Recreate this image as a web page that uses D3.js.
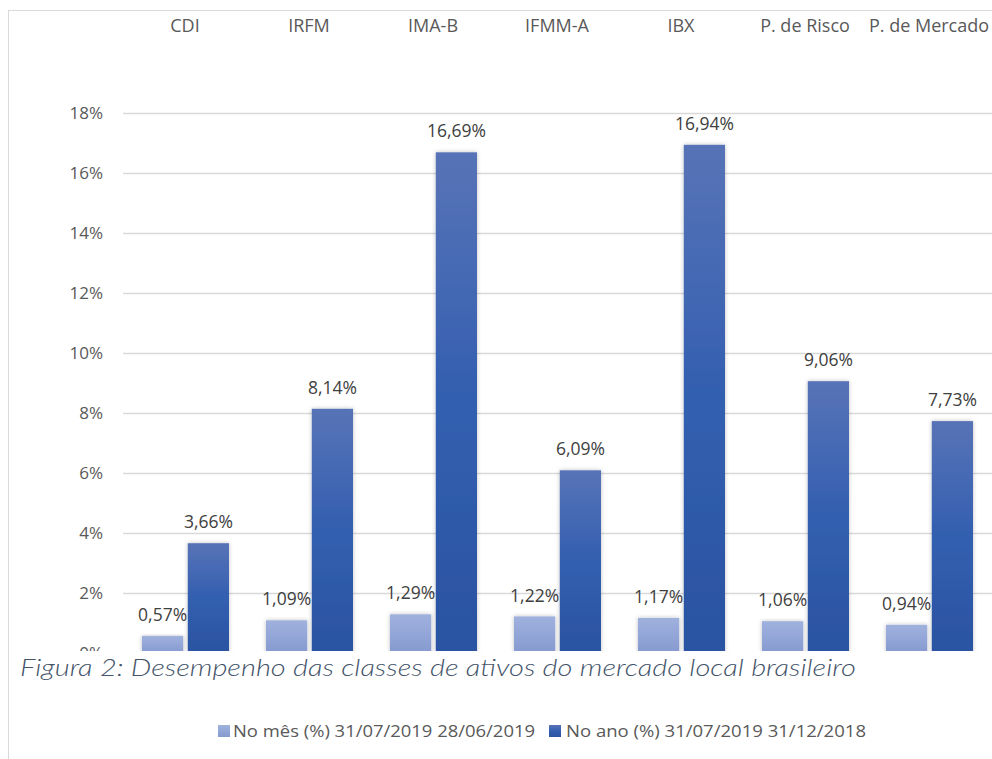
<!DOCTYPE html>
<html>
<head>
<meta charset="utf-8">
<script src="https://cdn.jsdelivr.net/npm/d3@7"></script>
<style>
  body { margin: 0; background: #fff; }
  svg { display: block; }
</style>
</head>
<body>
<div id="container"></div>
<script>
const { d3 } = window;

const categories = ['CDI', 'IRFM', 'IMA-B', 'IFMM-A', 'IBX', 'P. de Risco', 'P. de Mercado'];
const noMes = [0.57, 1.09, 1.29, 1.22, 1.17, 1.06, 0.94];
const noAno = [3.66, 8.14, 16.69, 6.09, 16.94, 9.06, 7.73];
const yTicks = [0, 2, 4, 6, 8, 10, 12, 14, 16, 18];
const seriesNames = ['No mês (%) 31/07/2019 28/06/2019', 'No ano (%) 31/07/2019 31/12/2018'];
const caption = 'Figura 2: Desempenho das classes de ativos do mercado local brasileiro';

const W = 992;
const H = 759;
const FONT = '"Open Sans", "Liberation Sans", sans-serif';

const fmt = (v) => `${v.toFixed(2).replace('.', ',')}%`;

const svg = d3.select('#container')
  .append('svg')
  .attr('width', W)
  .attr('height', H)
  .style('font-family', FONT);

const defs = svg.append('defs');

function addGradient(id, stops) {
  const g = defs.append('linearGradient')
    .attr('id', id)
    .attr('x1', 0).attr('y1', 0)
    .attr('x2', 0).attr('y2', 1);
  stops.forEach(([off, col]) => {
    g.append('stop').attr('offset', off).attr('stop-color', col);
  });
}
addGradient('gLight', [[0, '#a0b1dd'], [0.5, '#93a6d8'], [1, '#8599cf']]);
addGradient('gDark', [[0, '#5873b7'], [0.5, '#325fb0'], [1, '#2b53a1']]);

const shadow = defs.append('filter')
  .attr('id', 'shadow')
  .attr('x', '-30%').attr('y', '-10%')
  .attr('width', '160%').attr('height', '120%');
shadow.append('feDropShadow')
  .attr('dx', 0).attr('dy', 0)
  .attr('stdDeviation', 2)
  .attr('flood-color', '#000')
  .attr('flood-opacity', 0.25);

// outer frame (top and left edges visible)
svg.append('line')
  .attr('x1', 8).attr('x2', W).attr('y1', 10.5).attr('y2', 10.5)
  .attr('stroke', '#d9d9d9');
svg.append('line')
  .attr('x1', 8.5).attr('x2', 8.5).attr('y1', 10).attr('y2', H)
  .attr('stroke', '#d9d9d9');

const plot = { left: 123, right: 991, top: 113, bottom: 653 };

const x = d3.scaleBand()
  .domain(categories)
  .range([plot.left, plot.right])
  .paddingInner(0)
  .paddingOuter(0);

const inner = d3.scaleBand()
  .domain([0, 1])
  .range([19, 106])
  .paddingInner(0.1);

const y = d3.scaleLinear()
  .domain([0, 18])
  .range([plot.bottom, plot.top]);

// gridlines
svg.append('g')
  .selectAll('line')
  .data(yTicks)
  .join('line')
  .attr('x1', plot.left)
  .attr('x2', W)
  .attr('y1', (d) => y(d) + 0.5)
  .attr('y2', (d) => y(d) + 0.5)
  .attr('stroke', '#d9d9d9')
  .attr('stroke-width', 1.3);

// y axis labels
svg.append('g')
  .selectAll('text')
  .data(yTicks)
  .join('text')
  .attr('x', 103)
  .attr('y', (d) => y(d))
  .attr('dy', '0.35em')
  .attr('text-anchor', 'end')
  .attr('fill', '#595959')
  .style('font-size', '17px')
  .text((d) => `${d}%`);

// category labels on top
svg.append('g')
  .selectAll('text')
  .data(categories)
  .join('text')
  .attr('x', (d) => x(d) + x.bandwidth() / 2)
  .attr('y', 26)
  .attr('dy', '0.35em')
  .attr('text-anchor', 'middle')
  .attr('fill', '#595959')
  .style('font-size', '18px')
  .text((d) => d);

const series = [
  { values: noMes, fill: 'url(#gLight)' },
  { values: noAno, fill: 'url(#gDark)' },
];

series.forEach((s, si) => {
  const g = svg.append('g');
  g.selectAll('rect')
    .data(s.values)
    .join('rect')
    .attr('x', (d, i) => x(categories[i]) + inner(si))
    .attr('width', inner.bandwidth())
    .attr('y', (d) => y(d))
    .attr('height', (d) => y(0) - y(d))
    .attr('fill', s.fill)
    .attr('filter', 'url(#shadow)');

  g.selectAll('text')
    .data(s.values)
    .join('text')
    .attr('x', (d, i) => x(categories[i]) + inner(si) + inner.bandwidth() / 2)
    .attr('y', (d) => y(d) - 21)
    .attr('dy', '0.35em')
    .attr('text-anchor', 'middle')
    .attr('fill', '#404040')
    .style('font-size', '17.5px')
    .text((d) => fmt(d));
});

// caption box covering the bottom of the plot
svg.append('rect')
  .attr('x', 9)
  .attr('y', 651)
  .attr('width', W - 9)
  .attr('height', 44)
  .attr('fill', '#fff');

svg.append('text')
  .attr('x', 20)
  .attr('y', 676)
  .attr('fill', '#44546a')
  .style('font-family', '"Lato", "DejaVu Sans", sans-serif')
  .style('font-style', 'italic')
  .style('font-weight', 300)
  .style('font-size', '24px')
  .attr('textLength', 836)
  .attr('lengthAdjust', 'spacingAndGlyphs')
  .text(caption);

// legend
const legend = [
  { x: 218, tx: 233, tw: 302, fill: 'url(#gLight)', label: seriesNames[0] },
  { x: 549, tx: 566, tw: 300, fill: 'url(#gDark)', label: seriesNames[1] },
];
const lg = svg.append('g');
legend.forEach((l) => {
  lg.append('rect')
    .attr('x', l.x)
    .attr('y', 725)
    .attr('width', 12)
    .attr('height', 12)
    .attr('fill', l.fill);
  lg.append('text')
    .attr('x', l.tx)
    .attr('y', 731)
    .attr('dy', '0.35em')
    .attr('fill', '#595959')
    .style('font-size', '17px')
    .attr('textLength', l.tw)
    .attr('lengthAdjust', 'spacingAndGlyphs')
    .text(l.label);
});
</script>
</body>
</html>
